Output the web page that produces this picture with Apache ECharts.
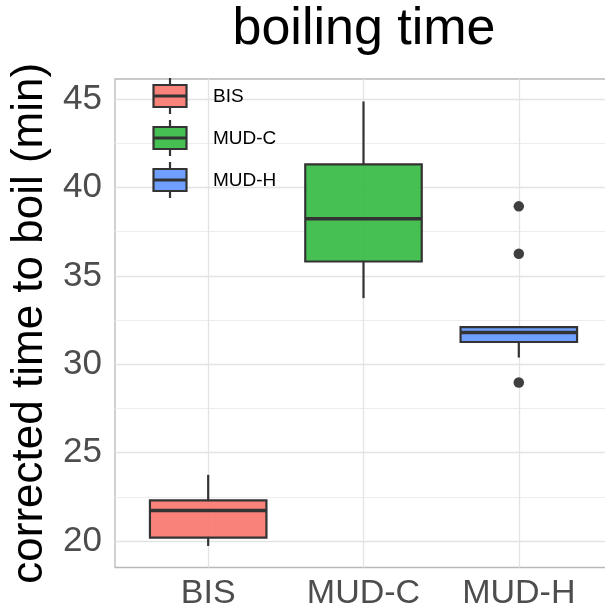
<!DOCTYPE html>
<html>
<head>
<meta charset="utf-8">
<script src="https://cdn.jsdelivr.net/npm/echarts@6.0.0/dist/echarts.min.js"></script>
<style>
html,body{margin:0;padding:0;background:#fff;}
#chart{width:605px;height:609px;}
</style>
</head>
<body>
<div id="chart"></div>
<script>
// ---- data ----
const categories = ['BIS', 'MUD-C', 'MUD-H'];
const whiskerLow  = [19.73, 33.74, 30.38];
const q1          = [20.20, 35.81, 31.26];
const medians     = [21.73, 38.23, 31.80];
const q3          = [22.30, 41.30, 32.10];
const whiskerHigh = [23.75, 44.86, 32.10];
const outlierCats   = ['MUD-H', 'MUD-H', 'MUD-H'];
const outlierValues = [38.93, 36.25, 28.97];
const yTicks = [20, 25, 30, 35, 40, 45];
const yMinor = [22.5, 27.5, 32.5, 37.5, 42.5];
const titleText = 'boiling time';
const yTitle = 'corrected time to boil (min)';

// ---- styles ----
const fills = ['rgba(248,118,109,0.9)', 'rgba(50,185,64,0.9)', 'rgba(97,150,255,0.9)'];
const edge = '#333333';
const FONT = '"Liberation Sans", Arial, Helvetica, sans-serif';

const boxData = categories.map((c, i) => [i, whiskerLow[i], q1[i], medians[i], q3[i], whiskerHigh[i]]);
const outData = outlierCats.map((c, k) => [categories.indexOf(c), outlierValues[k]]);

const gridLines = []
  .concat(yTicks.map(v => ({ yAxis: v, lineStyle: { color: '#e3e3e3', width: 1.3, type: 'solid' } })))
  .concat(yMinor.map(v => ({ yAxis: v, lineStyle: { color: '#ebebeb', width: 0.9, type: 'solid' } })))
  .concat(categories.map((c, i) => ({ xAxis: i, lineStyle: { color: '#e3e3e3', width: 1.3, type: 'solid' } })));

// legend (drawn as ggplot-like keys)
const legendEls = [];
const LZ = 100;
categories.forEach((c, i) => {
  const cx = 170, cy = 96 + 42 * i, w = 33, h = 22;
  legendEls.push({ type: 'line', z: LZ, shape: { x1: cx, y1: cy - h / 2 - 7, x2: cx, y2: cy - h / 2 }, style: { stroke: edge, lineWidth: 2.2 } });
  legendEls.push({ type: 'line', z: LZ, shape: { x1: cx, y1: cy + h / 2, x2: cx, y2: cy + h / 2 + 7 }, style: { stroke: edge, lineWidth: 2.2 } });
  legendEls.push({ type: 'rect', z: LZ, shape: { x: cx - w / 2, y: cy - h / 2, width: w, height: h }, style: { fill: '#ffffff', stroke: null } });
  legendEls.push({ type: 'rect', z: LZ + 1, shape: { x: cx - w / 2, y: cy - h / 2, width: w, height: h }, style: { fill: fills[i], stroke: edge, lineWidth: 2.2 } });
  legendEls.push({ type: 'line', z: LZ + 2, shape: { x1: cx - w / 2, y1: cy, x2: cx + w / 2, y2: cy }, style: { stroke: edge, lineWidth: 3.2 } });
  legendEls.push({ type: 'text', z: LZ, x: 213, y: cy + 1, style: { text: c, fontSize: 19, fontFamily: FONT, fill: '#000', verticalAlign: 'middle', align: 'left' } });
});

const chart = echarts.init(document.getElementById('chart'), null, { renderer: 'canvas' });
chart.setOption({
  animation: false,
  backgroundColor: '#ffffff',
  grid: { left: 115, top: 79, width: 497, height: 488.5, show: true, borderColor: '#b8b8b8', borderWidth: 1.3, backgroundColor: '#ffffff', containLabel: false, outerBoundsMode: 'none' },
  xAxis: {
    type: 'value', min: -0.6, max: 2.6,
    axisLine: { show: false }, axisTick: { show: false }, splitLine: { show: false },
    axisLabel: { customValues: [0, 1, 2], formatter: v => categories[Math.round(v)], fontSize: 34, fontFamily: FONT, color: '#4d4d4d', margin: 9 }
  },
  yAxis: {
    type: 'value', min: 18.51, max: 46.13,
    axisLine: { show: false }, axisTick: { show: false }, splitLine: { show: false },
    axisLabel: { customValues: yTicks, fontSize: 35, fontFamily: FONT, color: '#4d4d4d', margin: 13 },
    name: yTitle, nameLocation: 'middle', nameGap: 54,
    nameTextStyle: { fontSize: 44, fontFamily: FONT, color: '#000' }
  },
  graphic: [
    { type: 'text', x: 364, y: 30, z: 10, style: { text: titleText, fontSize: 52, fontFamily: FONT, fill: '#000', align: 'center', verticalAlign: 'middle' } },
    { type: 'group', z: LZ, children: legendEls }
  ],
  series: [
    {
      type: 'custom', z: 3,
      data: boxData,
      encode: { x: 0, y: [1, 2, 3, 4, 5] },
      renderItem: function (params, api) {
        const x = api.value(0);
        const lo = api.value(1), b1 = api.value(2), md = api.value(3), b3 = api.value(4), hi = api.value(5);
        const hw = 0.375;
        const pTL = api.coord([x - hw, b3]);
        const pBR = api.coord([x + hw, b1]);
        const pHi = api.coord([x, hi]);
        const pQ3 = api.coord([x, b3]);
        const pQ1 = api.coord([x, b1]);
        const pLo = api.coord([x, lo]);
        const pMdL = api.coord([x - hw, md]);
        const pMdR = api.coord([x + hw, md]);
        const idx = params.dataIndex;
        return {
          type: 'group',
          children: [
            { type: 'line', shape: { x1: pHi[0], y1: pHi[1], x2: pQ3[0], y2: pQ3[1] }, style: { stroke: edge, lineWidth: 2.2 } },
            { type: 'line', shape: { x1: pQ1[0], y1: pQ1[1], x2: pLo[0], y2: pLo[1] }, style: { stroke: edge, lineWidth: 2.2 } },
            { type: 'rect', shape: { x: pTL[0], y: pTL[1], width: pBR[0] - pTL[0], height: pBR[1] - pTL[1] }, style: { fill: fills[idx], stroke: edge, lineWidth: 2.2 } },
            { type: 'line', shape: { x1: pMdL[0], y1: pMdL[1], x2: pMdR[0], y2: pMdR[1] }, style: { stroke: edge, lineWidth: 3.6 } }
          ]
        };
      }
    },
    {
      type: 'scatter', z: 4,
      data: outData,
      symbol: 'circle', symbolSize: 10.5,
      itemStyle: { color: '#3f3f3f', opacity: 1 },
      silent: true,
      markLine: { silent: true, symbol: 'none', z: 1, label: { show: false }, animation: false, data: gridLines }
    }
  ]
});
</script>
</body>
</html>
